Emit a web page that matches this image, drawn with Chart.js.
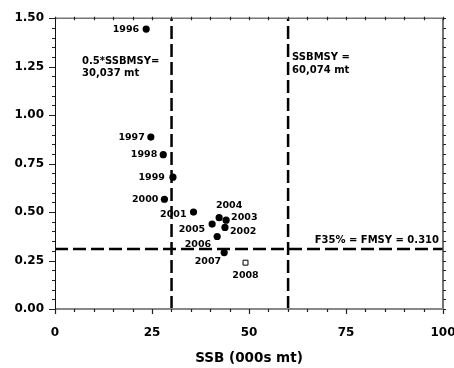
<!DOCTYPE html>
<html>
<head>
<meta charset="utf-8">
<script src="https://cdn.jsdelivr.net/npm/chart.js@4/dist/chart.umd.min.js"></script>
<style>
  html, body { margin: 0; padding: 0; background: #fff; }
  #wrap { width: 454px; height: 368px; }
</style>
</head>
<body>
<div id="wrap"><canvas id="chart"></canvas></div>
<script>
// --- data ---
const years = ["1996", "1997", "1998", "1999", "2000", "2001", "2002", "2003", "2004", "2005", "2006", "2007"];
const ssb = [23.5, 24.7, 27.9, 30.4, 28.2, 35.7, 43.8, 44.1, 42.3, 40.5, 41.8, 43.6];
const fishingF = [1.444, 0.887, 0.796, 0.680, 0.566, 0.500, 0.421, 0.458, 0.471, 0.438, 0.374, 0.291];

// 2008 is drawn as an open square (projection)
const projYear = "2008";
const projSsb = 49.1;
const projF = 0.239;

// reference points
const halfSsbMsy = 30.037;
const ssbMsy = 60.074;
const fMsy = 0.310;
const xRange = [0, 100];
const yRange = [0, 1.5];

const xTickLabels = [0, 25, 50, 75, 100];
const yTickLabels = [0.00, 0.25, 0.50, 0.75, 1.00, 1.25, 1.50];

const halfSsbMsyText = ["0.5*SSBMSY=", "30,037 mt"];
const ssbMsyText = ["SSBMSY =", "60,074 mt"];
const fMsyText = "F35% = FMSY = 0.310";
const xTitle = "SSB (000s mt)";

// label placement next to each point (pixel offsets, text align)
const labelPlace = {
  "1996": [-7, 0, "right"], "1997": [-6, 0, "right"], "1998": [-6, 0, "right"],
  "1999": [-8, 0, "right"], "2000": [-6, 0, "right"], "2001": [-7, 2, "right"],
  "2002": [5, 4, "left"], "2003": [5, -3, "left"], "2004": [10, -12, "center"],
  "2005": [-7, 5, "right"], "2006": [-6, 8, "right"], "2007": [-3, 9, "right"],
  "2008": [0, 13, "center"]
};

const FONT = "'DejaVu Sans', sans-serif";

// --- plugin: minor ticks, frame, year labels, reference-line notes ---
const decorations = {
  id: "decorations",
  afterDatasetsDraw(chart) {
    const { ctx, chartArea: a, scales: { x, y } } = chart;
    ctx.save();

    // frame
    ctx.lineWidth = 1.5;
    ctx.strokeStyle = "#777";
    ctx.beginPath(); ctx.moveTo(a.left, a.top); ctx.lineTo(a.right, a.top); ctx.stroke();
    ctx.strokeStyle = "#444";
    ctx.beginPath(); ctx.moveTo(a.right, a.top); ctx.lineTo(a.right, a.bottom); ctx.stroke();
    ctx.strokeStyle = "#888";
    ctx.lineWidth = 2;
    ctx.beginPath(); ctx.moveTo(a.left, a.bottom); ctx.lineTo(a.right + 1, a.bottom); ctx.stroke();
    ctx.strokeStyle = "#111";
    ctx.lineWidth = 1;
    ctx.beginPath(); ctx.moveTo(a.left + 0.5, a.top); ctx.lineTo(a.left + 0.5, a.bottom); ctx.stroke();

    // ticks
    ctx.strokeStyle = "#222";
    ctx.lineWidth = 1.2;
    ctx.beginPath();
    for (let v = xRange[0]; v <= xRange[1]; v += 5) {
      const px = Math.round(x.getPixelForValue(v)) + 0.5;
      const major = v % 25 === 0;
      ctx.moveTo(px, a.bottom); ctx.lineTo(px, a.bottom + (major ? 5 : 3));
      ctx.moveTo(px, a.top - 1.5); ctx.lineTo(px, a.top + 2);
    }
    for (let i = 0; i <= 30; i++) {
      const v = i * 0.05;
      const py = Math.round(y.getPixelForValue(v)) + 0.5;
      const major = i % 5 === 0;
      ctx.moveTo(a.left - (major ? 6 : 3), py); ctx.lineTo(a.left, py);
      ctx.moveTo(a.right, py); ctx.lineTo(a.right + 3, py);
    }
    ctx.stroke();

    // year labels
    ctx.fillStyle = "#000";
    ctx.font = "bold 9.5px " + FONT;
    ctx.textBaseline = "middle";
    const allYears = years.concat([projYear]);
    const allX = ssb.concat([projSsb]);
    const allY = fishingF.concat([projF]);
    allYears.forEach((yr, i) => {
      const [dx, dy, align] = labelPlace[yr];
      ctx.textAlign = align;
      ctx.fillText(yr, x.getPixelForValue(allX[i]) + dx, y.getPixelForValue(allY[i]) + dy);
    });

    // reference line notes
    ctx.font = "bold 10px " + FONT;
    ctx.textAlign = "left";
    ctx.fillText(halfSsbMsyText[0], 82, 61);
    ctx.fillText(halfSsbMsyText[1], 82, 73);
    ctx.fillText(ssbMsyText[0], x.getPixelForValue(ssbMsy) + 4, 57);
    ctx.fillText(ssbMsyText[1], x.getPixelForValue(ssbMsy) + 4, 70);
    ctx.textAlign = "right";
    ctx.fillText(fMsyText, a.right - 4, y.getPixelForValue(fMsy) - 8);

    ctx.restore();
  }
};

const dash = [13, 5];

new Chart(document.getElementById("chart"), {
  type: "scatter",
  data: {
    datasets: [
      {
        label: "SSB vs F",
        data: ssb.map((v, i) => ({ x: v, y: fishingF[i] })),
        pointRadius: 3.6,
        pointBackgroundColor: "#000",
        pointBorderColor: "#000",
        pointBorderWidth: 0,
        order: 0
      },
      {
        label: projYear,
        data: [{ x: projSsb, y: projF }],
        pointStyle: "rect",
        pointRadius: 3.5,
        pointBackgroundColor: "#fff",
        pointBorderColor: "#000",
        pointBorderWidth: 1,
        order: 0
      },
      {
        label: "0.5 SSBmsy",
        data: [{ x: halfSsbMsy, y: yRange[0] }, { x: halfSsbMsy, y: yRange[1] }],
        showLine: true, pointRadius: 0, borderColor: "#000", borderWidth: 2.5, borderDash: dash,
        order: 1
      },
      {
        label: "SSBmsy",
        data: [{ x: ssbMsy, y: yRange[0] }, { x: ssbMsy, y: yRange[1] }],
        showLine: true, pointRadius: 0, borderColor: "#000", borderWidth: 2.5, borderDash: dash,
        order: 1
      },
      {
        label: "Fmsy",
        data: [{ x: xRange[0], y: fMsy }, { x: xRange[1], y: fMsy }],
        showLine: true, pointRadius: 0, borderColor: "#000", borderWidth: 2.5, borderDash: dash,
        order: 1
      }
    ]
  },
  options: {
    responsive: true,
    maintainAspectRatio: false,
    animation: false,
    events: [],
    layout: { padding: { top: 12, right: 11, left: 0, bottom: 0 } },
    plugins: {
      legend: { display: false },
      tooltip: { enabled: false }
    },
    scales: {
      x: {
        type: "linear",
        min: xRange[0],
        max: xRange[1],
        afterBuildTicks: s => { s.ticks = xTickLabels.map(v => ({ value: v })); },
        afterFit: s => { s.height = 59; s.paddingRight = 11; s.paddingLeft = 0; },
        grid: { display: false, drawTicks: false },
        border: { display: false },
        ticks: {
          color: "#000",
          font: { family: FONT, weight: "bold", size: 12 },
          padding: 17,
          maxRotation: 0,
          autoSkip: false
        },
        title: {
          display: true,
          text: xTitle,
          color: "#000",
          font: { family: FONT, weight: "bold", size: 13.5 },
          padding: { top: 0, bottom: 1 }
        }
      },
      y: {
        type: "linear",
        min: yRange[0],
        max: yRange[1],
        afterBuildTicks: s => { s.ticks = yTickLabels.map(v => ({ value: v })); },
        afterFit: s => { s.width = 55; },
        grid: { display: false, drawTicks: false },
        border: { display: false },
        ticks: {
          color: "#000",
          font: { family: FONT, weight: "bold", size: 12 },
          padding: 11,
          callback: v => v.toFixed(2)
        }
      }
    }
  },
  plugins: [decorations]
});
</script>
</body>
</html>
